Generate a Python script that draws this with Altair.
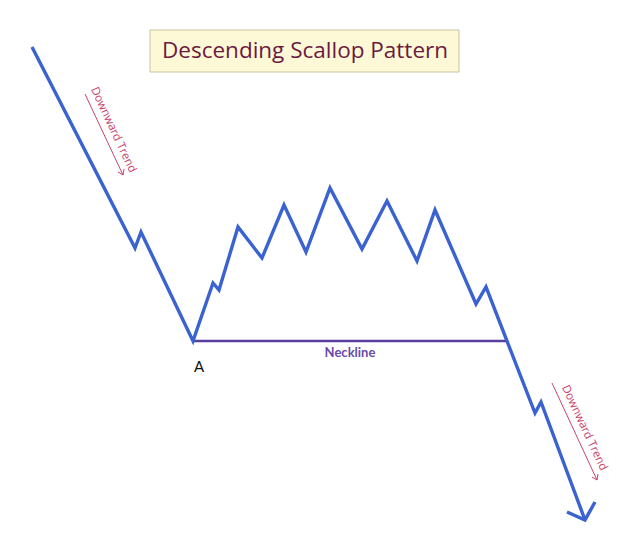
import altair as alt
import pandas as pd

# Main price path (time index, price level)
path_t = [32, 135, 141, 193, 213, 219, 238, 262, 284, 306, 330, 362, 387, 417, 435, 476, 486, 535, 541, 585]
path_p = [487, 286, 302, 193, 251, 244, 307, 276, 329, 282, 346, 285, 333, 273, 324, 230, 247, 121, 132, 14]

# Blue arrowhead at the end of the path
head_t = [567, 585, 595]
head_p = [22, 14, 32]

# Neckline
neck_t = [193, 507]
neck_p = [193, 193]

# Pink "Downward Trend" arrows (shaft + chevron)
trend_id = ["a", "a", "b", "b"]
trend_t = [85, 123, 552, 597]
trend_p = [440, 359, 151, 54]
chev_id = ["a", "a", "a", "b", "b", "b"]
chev_t = [118, 123, 124, 592, 597, 598]
chev_p = [362, 359, 365, 57, 54, 60]
trend_label_t = [113, 584]
trend_label_p = [404, 106]
trend_labels = ["Downward Trend", "Downward Trend"]

# Title box
title_text = "Descending Scallop Pattern"
title_box = dict(t1=150, t2=459, p1=462, p2=504)

x_scale = alt.Scale(domain=[8, 612])
y_scale = alt.Scale(domain=[8, 526])
X = lambda f: alt.X(f, type="quantitative", scale=x_scale, axis=None)
Y = lambda f: alt.Y(f, type="quantitative", scale=y_scale, axis=None)

blue = "#3a62d0"

path_df = pd.DataFrame({"t": path_t, "p": path_p, "o": range(len(path_t))})
path = alt.Chart(path_df).mark_line(color=blue, strokeWidth=3.4, strokeJoin="miter").encode(
    x=X("t"), y=Y("p"), order="o:Q")

head_df = pd.DataFrame({"t": head_t, "p": head_p, "o": range(3)})
head = alt.Chart(head_df).mark_line(color=blue, strokeWidth=3.4, strokeJoin="miter").encode(
    x=X("t"), y=Y("p"), order="o:Q")

neck_df = pd.DataFrame({"t": neck_t, "p": neck_p})
neck = alt.Chart(neck_df).mark_line(color="#5a3e9e", strokeWidth=2.5).encode(x=X("t"), y=Y("p"))

neck_lbl = alt.Chart(pd.DataFrame({"t": [350], "p": [181], "s": ["Neckline"]})).mark_text(
    font="Lato", fontWeight="bold", fontSize=13, color="#6a4aa8").encode(x=X("t"), y=Y("p"), text="s:N")

a_lbl = alt.Chart(pd.DataFrame({"t": [199], "p": [167], "s": ["A"]})).mark_text(
    font="Lato", fontSize=15, color="#111111").encode(x=X("t"), y=Y("p"), text="s:N")

pink = "#c8446e"
tr_df = pd.DataFrame({"id": trend_id, "t": trend_t, "p": trend_p})
tr = alt.Chart(tr_df).mark_line(color=pink, strokeWidth=1).encode(x=X("t"), y=Y("p"), detail="id:N")
ch_df = pd.DataFrame({"id": chev_id, "t": chev_t, "p": chev_p, "o": [0, 1, 2, 0, 1, 2]})
ch = alt.Chart(ch_df).mark_line(color=pink, strokeWidth=1).encode(
    x=X("t"), y=Y("p"), detail="id:N", order="o:Q")
tr_lbl = alt.Chart(pd.DataFrame({"t": trend_label_t, "p": trend_label_p, "s": trend_labels})).mark_text(
    font="Open Sans", fontSize=11.5, color=pink, angle=65).encode(x=X("t"), y=Y("p"), text="s:N")

box = alt.Chart(pd.DataFrame([title_box])).mark_rect(
    fill="#fdf8d6", stroke="#c9c2a2", strokeWidth=1).encode(
    x=X("t1"), x2="t2", y=Y("p1"), y2="p2")
title = alt.Chart(pd.DataFrame({"t": [305], "p": [483], "s": [title_text]})).mark_text(
    font="Open Sans", fontSize=22.5, color="#6b1a40").encode(x=X("t"), y=Y("p"), text="s:N")

chart = alt.layer(box, title, neck, path, head, neck_lbl, a_lbl, tr, ch, tr_lbl).properties(
    width=604, height=518, padding=0, autosize="none"
).configure_view(stroke=None)

chart.save("out.html", embed_options={"renderer": "svg", "actions": False})
